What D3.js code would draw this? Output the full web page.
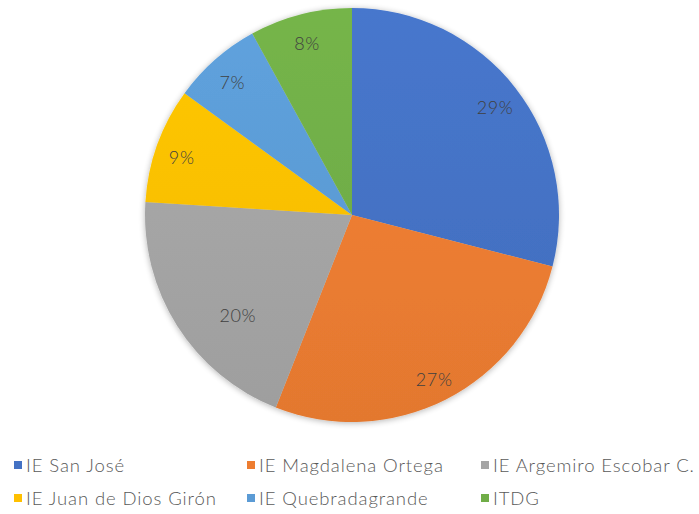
<!DOCTYPE html>
<html><head><meta charset="utf-8">
<script src="https://cdn.jsdelivr.net/npm/d3@7"></script>
<style>body{margin:0;background:#fff}svg{display:block}</style>
</head><body>
<script>
const categories = ["IE San José","IE Magdalena Ortega","IE Argemiro Escobar C.","IE Juan de Dios Girón","IE Quebradagrande","ITDG"];
const values = [29,27,20,9,7,8];
const colors = ["#4472C4","#ED7D31","#A5A5A5","#FFC000","#5B9BD5","#70AD47"];

const W=699,H=514,cx=352,cy=215,R=207,LR=181;
const FONT="Lato, 'Open Sans', sans-serif";
const svg=d3.select("body").append("svg").attr("width",W).attr("height",H);
const defs=svg.append("defs");
const f=defs.append("filter").attr("id","sh").attr("x","-20%").attr("y","-20%").attr("width","140%").attr("height","140%");
f.append("feGaussianBlur").attr("in","SourceAlpha").attr("stdDeviation",3);
f.append("feOffset").attr("dx",0).attr("dy",1).attr("result","b");
f.append("feComponentTransfer").append("feFuncA").attr("type","linear").attr("slope",0.3);
const m=f.append("feMerge");m.append("feMergeNode");m.append("feMergeNode").attr("in","SourceGraphic");

colors.forEach((c,i)=>{
  const g=defs.append("linearGradient").attr("id","g"+i).attr("gradientUnits","userSpaceOnUse")
    .attr("x1",0).attr("y1",-R).attr("x2",0).attr("y2",R);
  g.append("stop").attr("offset","0%").attr("stop-color",d3.color(c).brighter(0.12));
  g.append("stop").attr("offset","100%").attr("stop-color",d3.color(c).darker(0.12));
});

const pie=d3.pie().sort(null).value(d=>d)(values);
const arc=d3.arc().innerRadius(0).outerRadius(R);
// Excel "best fit" pulls the large grey label inward and toward its lower edge
const labelPos=(d,i)=>{
  const r = i===2 ? 150 : LR;
  const a = (d.startAngle+d.endAngle)/2 - (i===2 ? 0.14 : 0);
  return [Math.sin(a)*r, -Math.cos(a)*r];
};
const g=svg.append("g").attr("transform",`translate(${cx},${cy})`);
const gp=g.append("g").attr("filter","url(#sh)");
gp.selectAll("path").data(pie).join("path").attr("d",arc)
  .attr("fill",(d,i)=>`url(#g${i})`);
g.selectAll("text").data(pie).join("text")
  .attr("transform",(d,i)=>`translate(${labelPos(d,i)})`)
  .attr("text-anchor","middle").attr("dy","0.55em")
  .attr("font-family",FONT).attr("font-weight",300).attr("font-size",18).attr("letter-spacing",0.6)
  .attr("fill","#404040").text(d=>d.data+"%");

const lg=svg.append("g");
const colX=[14,247,481], rowY=[466,499];
categories.forEach((c,i)=>{
  const x=colX[i%3], y=rowY[Math.floor(i/3)];
  lg.append("rect").attr("x",x).attr("y",y-5).attr("width",8).attr("height",8).attr("fill",colors[i]);
  lg.append("text").attr("x",x+12).attr("y",y).attr("dy","0.35em")
    .attr("font-family",FONT).attr("font-weight",300).attr("font-size",18.5).attr("letter-spacing",0.9)
    .attr("fill","#595959").text(c);
});
</script>
</body></html>
